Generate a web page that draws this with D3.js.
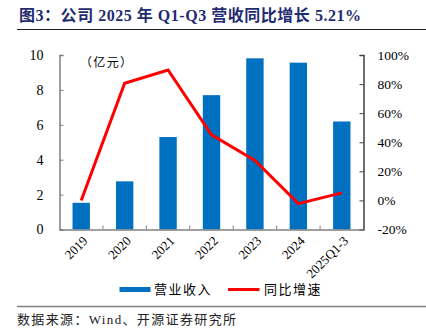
<!DOCTYPE html>
<html><head><meta charset="utf-8">
<script src="https://cdn.jsdelivr.net/npm/d3@7"></script>
<style>body{margin:0;background:#fff}svg{display:block}</style>
</head><body>
<svg id="c" width="426" height="335"></svg>
<script>
const categories = ["2019","2020","2021","2022","2023","2024","2025Q1-3"];
const revenue = [1.53, 2.76, 5.30, 7.70, 9.81, 9.56, 6.19];
const growth = [0.0, 80.6, 89.7, 45.1, 27.5, -2.2, 5.21];
const leftTicks = [0,2,4,6,8,10];
const rightTicks = [-20,0,20,40,60,80,100];
const title = "图3：公司 2025 年 Q1-Q3 营收同比增长 5.21%";
const source = "数据来源：Wind、开源证券研究所";

const svg = d3.select("#c");
const L = 59.5, R = 363.5, T = 55, B = 229.5;
const serif = "'Liberation Serif','DejaVu Serif',serif";
const cjk = "'Noto Sans CJK SC',sans-serif";

// title
svg.append("text").attr("x",19).attr("y",21).attr("font-family",serif+","+cjk)
  .attr("font-weight","bold").attr("font-size",16).attr("fill","#1F2C6E")
  .attr("textLength",342).attr("lengthAdjust","spacing").text(title);
svg.append("line").attr("x1",17).attr("x2",426).attr("y1",29.5).attr("y2",29.5)
  .attr("stroke","#222").attr("stroke-width",1);

const x = d3.scaleBand().domain(categories).range([L,R]).paddingInner(0.6).paddingOuter(0.3);
const xb = d3.scaleBand().domain(categories).range([L,R]);
const y = d3.scaleLinear().domain([0,10]).range([B,T]);
const y2 = d3.scaleLinear().domain([-20,100]).range([B,T]);

// bars
svg.append("g").selectAll("rect").data(categories).join("rect")
  .attr("x",d=>x(d)).attr("width",x.bandwidth())
  .attr("y",(d,i)=>y(revenue[i])).attr("height",(d,i)=>B-y(revenue[i]))
  .attr("fill","#0070C0");

// line
const line = d3.line().x((d,i)=>xb(categories[i])+xb.bandwidth()/2).y(d=>y2(d));
svg.append("path").datum(growth).attr("d",line).attr("fill","none")
  .attr("stroke","#FF0000").attr("stroke-width",3).attr("stroke-linejoin","miter");

// left axis
const gl = svg.append("g").attr("transform",`translate(${L},0)`)
  .call(d3.axisLeft(y).tickValues(leftTicks).tickSize(-4).tickPadding(16));
gl.select(".domain").attr("stroke","#808080").attr("stroke-width",1.5);
gl.selectAll(".tick line").attr("stroke","#808080");
gl.selectAll("text").attr("font-family",serif).attr("font-size",14).attr("fill","#000");

// right axis
const gr = svg.append("g").attr("transform",`translate(${R},0)`)
  .call(d3.axisRight(y2).tickValues(rightTicks).tickSize(-4).tickFormat(d=>d+"%").tickPadding(14));
gr.select(".domain").attr("stroke","#404040").attr("stroke-width",1.5);
gr.selectAll(".tick line").attr("stroke","#404040");
gr.selectAll("text").attr("font-family",serif).attr("font-size",13.5).attr("fill","#000");

// bottom axis
const boundaries = categories.slice(1).map(c=>xb(c));
const gb = svg.append("g").attr("transform",`translate(0,${B})`)
  .call(d3.axisBottom(xb).tickValues([]).tickSize(0).tickSizeOuter(0));
gb.select(".domain").attr("stroke","#808080").attr("stroke-width",1.5);
gb.selectAll("line.b").data(boundaries).join("line").attr("class","b")
  .attr("x1",d=>d).attr("x2",d=>d).attr("y1",0).attr("y2",-4).attr("stroke","#808080");
gb.selectAll("text.lab").data(categories).join("text").attr("class","lab")
  .attr("transform",d=>`translate(${xb(d)+xb.bandwidth()/2+4},${9}) rotate(-45)`)
  .attr("text-anchor","end").attr("dy","0.35em")
  .attr("font-family",serif).attr("font-size",13).attr("fill","#000").text(d=>d);

// unit label
svg.append("text").attr("x",80).attr("y",67).attr("font-family",cjk)
  .attr("font-size",12).attr("fill","#000")
  .attr("textLength",52).attr("lengthAdjust","spacing").text("（亿元）");

// legend
svg.append("rect").attr("x",119.5).attr("y",287).attr("width",31).attr("height",5).attr("fill","#0070C0");
svg.append("text").attr("x",154).attr("y",294).attr("font-family",cjk).attr("font-size",13)
  .attr("letter-spacing",1.5).attr("fill","#000").text("营业收入");
svg.append("line").attr("x1",228).attr("x2",259.5).attr("y1",289.5).attr("y2",289.5)
  .attr("stroke","#FF0000").attr("stroke-width",3);
svg.append("text").attr("x",264).attr("y",294).attr("font-family",cjk).attr("font-size",13)
  .attr("letter-spacing",1.5).attr("fill","#000").text("同比增速");

// footer
svg.append("line").attr("x1",17).attr("x2",426).attr("y1",306.5).attr("y2",306.5)
  .attr("stroke","#808080").attr("stroke-width",1.5);
svg.append("text").attr("x",17).attr("y",324).attr("font-family",serif+","+cjk)
  .attr("font-size",13).attr("fill","#222")
  .attr("textLength",219).attr("lengthAdjust","spacing").text(source);
</script>
</body></html>
